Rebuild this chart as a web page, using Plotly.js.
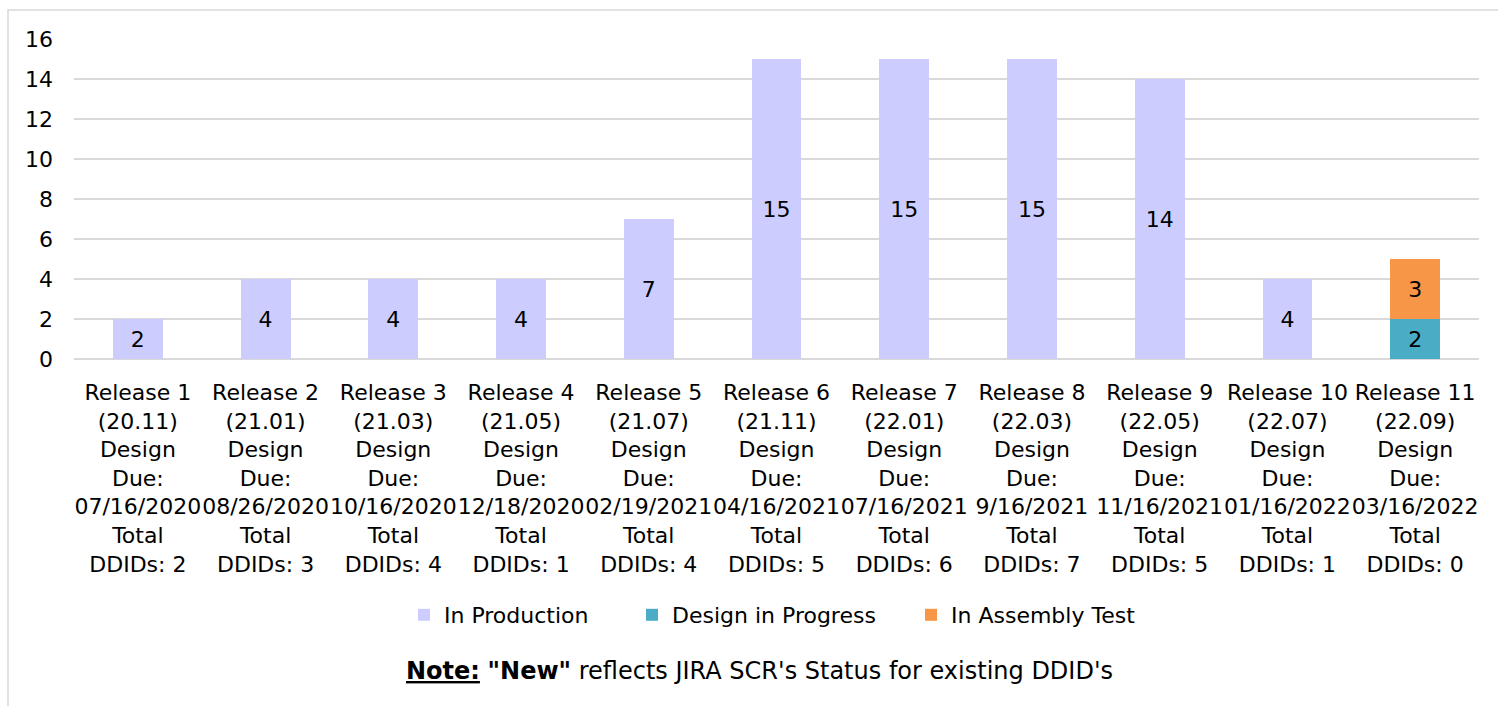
<!DOCTYPE html>
<html>
<head>
<meta charset="utf-8">
<script src="https://cdn.plot.ly/plotly-3.0.1.min.js"></script>
<style>html,body{margin:0;padding:0;background:#fff;}#chart{width:1498px;height:706px;}</style>
</head>
<body>
<div id="chart"></div>
<script>
const releases = ["Release 1","Release 2","Release 3","Release 4","Release 5","Release 6","Release 7","Release 8","Release 9","Release 10","Release 11"];
const versions = ["(20.11)","(21.01)","(21.03)","(21.05)","(21.07)","(21.11)","(22.01)","(22.03)","(22.05)","(22.07)","(22.09)"];
const dueDates = ["07/16/2020","08/26/2020","10/16/2020","12/18/2020","02/19/2021","04/16/2021","07/16/2021","9/16/2021","11/16/2021","01/16/2022","03/16/2022"];
const totalDDIDs = [2,3,4,1,4,5,6,7,5,1,0];
const inProduction = [2,4,4,4,7,15,15,15,14,4,null];
const designInProgress = [null,null,null,null,null,null,null,null,null,null,2];
const inAssemblyTest = [null,null,null,null,null,null,null,null,null,null,3];
const yTicks = [0,2,4,6,8,10,12,14,16];

const categories = releases.map((r,i)=> r+"<br>"+versions[i]+"<br>Design<br>Due:<br>"+dueDates[i]+"<br>Total<br>DDIDs: "+totalDDIDs[i]);

const FONT = "DejaVu Sans";
const FS = 22;
const common = {type:'bar', x:categories, textposition:'inside', insidetextanchor:'middle',
  texttemplate:'%{y}', textfont:{family:FONT,size:FS,color:'#000'}, hoverinfo:'skip', constraintext:'none'};

const data = [
  Object.assign({}, common, {name:'In Production', y:inProduction, marker:{color:'#CCCCFF'}, legend:'legend'}),
  Object.assign({}, common, {name:'Design in Progress', y:designInProgress, marker:{color:'#4BACC6'}, legend:'legend2'}),
  Object.assign({}, common, {name:'In Assembly Test', y:inAssemblyTest, marker:{color:'#F79646'}, legend:'legend3'})
];

const W = 1405, L = 74;
function leg(px){
  return {orientation:'h', x:(px-L)/W, xanchor:'left', y:-0.8, yanchor:'middle',
    font:{family:FONT,size:FS,color:'#000'}, itemwidth:30, bgcolor:'rgba(0,0,0,0)'};
}

const layout = {
  width:1498, height:706,
  margin:{l:74, r:19, t:39, b:347},
  paper_bgcolor:'#fff', plot_bgcolor:'#fff',
  barmode:'stack', bargap:0.61,
  font:{family:FONT, size:FS, color:'#000'},
  showlegend:true,
  legend:leg(404), legend2:leg(632), legend3:leg(911),
  xaxis:{type:'category', tickfont:{family:FONT,size:FS,color:'#000'}, showgrid:false,
    showline:false, ticks:'', zeroline:false, automargin:false, tickangle:0, ticklabelstandoff:18},
  yaxis:{range:[0,16], tickvals:yTicks, ticktext:yTicks.map(String), showgrid:true, gridcolor:'#D9D9D9', gridwidth:1.5,
    zeroline:true, zerolinecolor:'#D9D9D9', zerolinewidth:1.5, showline:false, ticks:'',
    tickfont:{family:FONT,size:FS,color:'#000'}, ticklabelstandoff:20, automargin:false, fixedrange:true},
  shapes:[{type:'rect', xref:'paper', yref:'paper', x0:(8-74)/1405, x1:(1504-74)/1405, y0:(359-712)/320, y1:(359-10)/320,
    line:{color:'#D9D9D9', width:1.5}, fillcolor:'rgba(0,0,0,0)', layer:'below'}],
  annotations:[{xref:'paper', yref:'paper', x:(759-74)/1405, y:(359-671)/320, xanchor:'center', yanchor:'middle',
    showarrow:false, font:{family:FONT,size:24,color:'#000'},
    text:'<u><b>Note:</b></u> <b>"New"</b> reflects JIRA SCR\'s Status for existing DDID\'s'}]
};

Plotly.newPlot('chart', data, layout, {displayModeBar:false, staticPlot:true});
</script>
</body>
</html>
